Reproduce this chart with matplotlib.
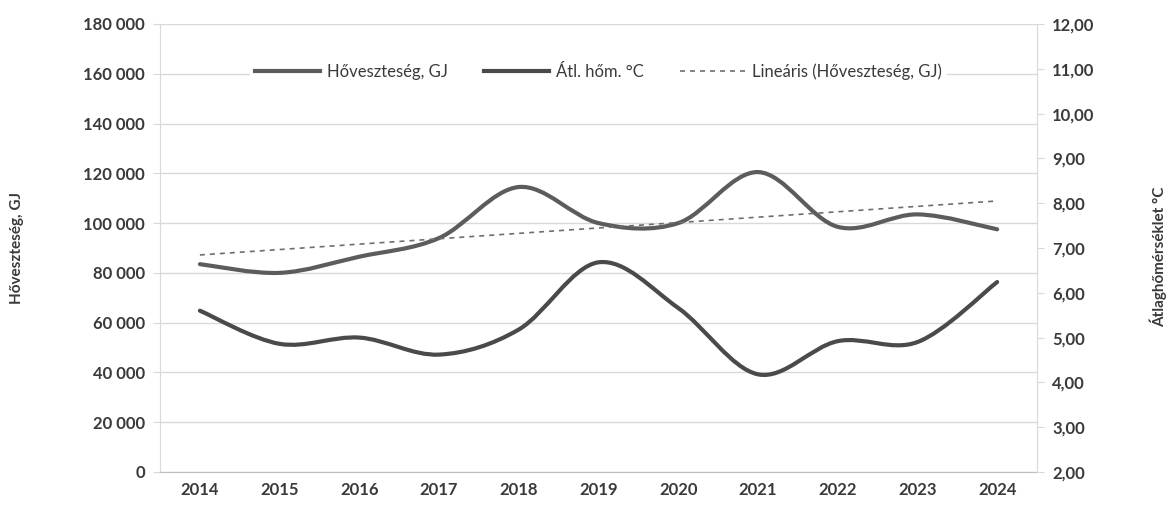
import numpy as np
import matplotlib
matplotlib.use("Agg")
import matplotlib.pyplot as plt
from matplotlib.path import Path
from matplotlib.patches import PathPatch
from matplotlib.lines import Line2D

plt.rcParams['font.family'] = ['Lato', 'DejaVu Sans']

years = [2014, 2015, 2016, 2017, 2018, 2019, 2020, 2021, 2022, 2023, 2024]
hoveszteseg = [83500, 80000, 86500, 94000, 114500, 100000, 100000, 120500, 98500, 103500, 97500]
atl_hom = [5.60, 4.86, 5.00, 4.62, 5.18, 6.68, 5.66, 4.18, 4.92, 4.90, 6.24]

left_ticks = list(range(0, 180001, 20000))
right_ticks = [2, 3, 4, 5, 6, 7, 8, 9, 10, 11, 12]

txt = '#3a3a3a'
c_heat = '#5c5c5c'
c_temp = '#4a4a4a'
c_trend = '#6e6e6e'
c_grid = '#d9d9d9'


def smooth_path(xs, ys):
    # bezier curve through the points, like a "smoothed line" in a spreadsheet
    xs = np.asarray(xs, float)
    ys = np.asarray(ys, float)
    n = len(xs)
    verts = [(xs[0], ys[0])]
    codes = [Path.MOVETO]
    for i in range(n - 1):
        i0 = max(i - 1, 0)
        i3 = min(i + 2, n - 1)
        c1 = (xs[i] + (xs[i + 1] - xs[i0]) / 6, ys[i] + (ys[i + 1] - ys[i0]) / 6)
        c2 = (xs[i + 1] - (xs[i3] - xs[i]) / 6, ys[i + 1] - (ys[i3] - ys[i]) / 6)
        verts += [c1, c2, (xs[i + 1], ys[i + 1])]
        codes += [Path.CURVE4] * 3
    return Path(verts, codes)


fig = plt.figure(figsize=(11.69, 5.08), dpi=100)
ax = fig.add_axes([0.1369, 0.0709, 0.7502, 0.8819])
ax2 = ax.twinx()

x = np.arange(len(years))
ax.set_xlim(-0.5, len(years) - 0.5)
ax.set_ylim(0, 180000)
ax2.set_ylim(2, 12)

ax.set_yticks(left_ticks)
ax.set_yticklabels([f"{v:,}".replace(',', ' ') for v in left_ticks])
ax2.set_yticks(right_ticks)
ax2.set_yticklabels([f"{v:.2f}".replace('.', ',') for v in right_ticks])
ax.set_xticks(x)
ax.set_xticklabels([str(y) for y in years])

ax.grid(axis='y', color=c_grid, linewidth=1)
ax.set_axisbelow(True)
for a in (ax, ax2):
    for s in a.spines.values():
        s.set_visible(False)
ax.spines['left'].set_visible(True)
ax.spines['left'].set_color(c_grid)
ax.spines['bottom'].set_visible(True)
ax.spines['bottom'].set_color('#bdbdbd')
ax2.spines['right'].set_visible(True)
ax2.spines['right'].set_color(c_grid)

ax.tick_params(axis='y', length=5, color=c_grid, labelsize=12, labelcolor=txt, pad=6)
ax.tick_params(axis='x', length=0, labelsize=12, labelcolor=txt, pad=7)
ax2.tick_params(axis='y', length=5, color=c_grid, labelsize=12, labelcolor=txt, pad=6)
for lab in ax.get_xticklabels() + ax.get_yticklabels() + ax2.get_yticklabels():
    lab.set_fontweight('bold')

ax.add_patch(PathPatch(smooth_path(x, hoveszteseg), facecolor='none', edgecolor=c_heat, lw=3, capstyle='round'))
ax2.add_patch(PathPatch(smooth_path(x, atl_hom), facecolor='none', edgecolor=c_temp, lw=3, capstyle='round'))

k, b = np.polyfit(x, hoveszteseg, 1)
ax.plot(x, k * x + b, color=c_trend, lw=1.2, linestyle=(0, (3, 3)))

ax.set_ylabel('Hőveszteség, GJ', fontsize=11, fontweight='bold', color=txt)
ax.yaxis.set_label_coords(-0.155, 0.5)
ax2.set_ylabel('Átlaghőmérséklet °C', fontsize=11, fontweight='bold', color=txt)
ax2.yaxis.set_label_coords(1.128, 0.48)

handles = [
    Line2D([], [], color=c_heat, lw=3),
    Line2D([], [], color=c_temp, lw=3),
    Line2D([], [], color=c_trend, lw=1.2, linestyle=(0, (3, 3))),
]
labels = ['Hőveszteség, GJ', 'Átl. hőm. °C', 'Lineáris (Hőveszteség, GJ)']
leg = ax2.legend(handles, labels, loc='upper center', bbox_to_anchor=(0.5, 0.942), ncol=3,
                 frameon=True, fontsize=12, handlelength=3.9, columnspacing=2.2,
                 handletextpad=0.4, borderpad=0.3)
leg.get_frame().set_facecolor('white')
leg.get_frame().set_edgecolor('none')
leg.get_frame().set_alpha(1)
for t in leg.get_texts():
    t.set_color(txt)

fig.savefig('out.png', dpi=100)
